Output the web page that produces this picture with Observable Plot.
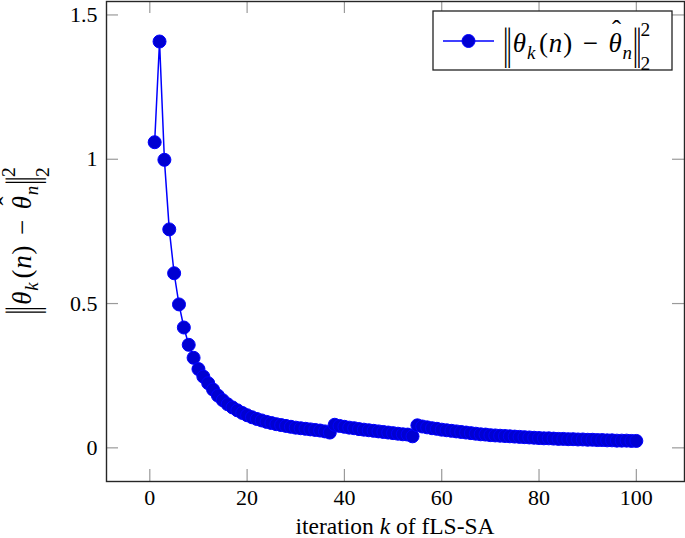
<!DOCTYPE html>
<html><head><meta charset="utf-8">
<script src="https://cdn.jsdelivr.net/npm/d3@7"></script>
<script src="https://cdn.jsdelivr.net/npm/@observablehq/plot@0.6"></script>
<style>html,body{margin:0;padding:0;background:#fff} svg{display:block}</style>
</head><body><div id="chart"></div>
<script>
// iteration k = 1..100
const iterations = d3.range(1, 101);
// squared error values
const errorValues = [
  1.059, 1.408, 0.998, 0.757, 0.605, 0.497, 0.417, 0.357, 0.312, 0.273,
  0.247, 0.224, 0.202, 0.181, 0.165, 0.151, 0.140, 0.130, 0.121, 0.113,
  0.106, 0.100, 0.095, 0.090, 0.086, 0.082, 0.079, 0.076, 0.073, 0.070,
  0.068, 0.066, 0.064, 0.062, 0.060, 0.057, 0.053, 0.080, 0.076, 0.073,
  0.070, 0.068, 0.065, 0.063, 0.061, 0.059, 0.057, 0.055, 0.053, 0.051,
  0.049, 0.047, 0.046, 0.040, 0.078, 0.074, 0.071, 0.068, 0.066, 0.063,
  0.061, 0.059, 0.057, 0.055, 0.053, 0.051, 0.049, 0.047, 0.046, 0.044,
  0.043, 0.042, 0.041, 0.040, 0.039, 0.038, 0.037, 0.036, 0.035, 0.034,
  0.033, 0.033, 0.032, 0.031, 0.031, 0.030, 0.030, 0.029, 0.029, 0.028,
  0.028, 0.027, 0.027, 0.026, 0.026, 0.025, 0.025, 0.025, 0.024, 0.024
];
const xTicks = [0, 20, 40, 60, 80, 100];
const xTickLabels = ["0", "20", "40", "60", "80", "100"];
const yTicks = [0, 0.5, 1, 1.5];
const yTickLabels = ["0", "0.5", "1", "1.5"];
const xLabelParts = [["iteration ", false], ["k", true], [" of fLS-SA", false]];

const W = 685, H = 538, mL = 106, mR = 1, mT = 1, mB = 57;
const pw = W - mL - mR, ph = H - mT - mB;
const tickLen = 12;
const serif = "Liberation Serif, Times New Roman, serif";
const fsTick = 22;
const data = iterations.map((k, i) => ({k, v: errorValues[i]}));
const tickStyle = {stroke: "#9a9a9a", strokeWidth: 1.2};

const chart = Plot.plot({
  width: W, height: H,
  marginLeft: mL, marginRight: mR, marginTop: mT, marginBottom: mB,
  style: {fontFamily: serif, fontSize: fsTick + "px", background: "#fff", color: "#000"},
  x: {domain: [-8.9, 109.9]},
  y: {domain: [-0.1166, 1.5466]},
  marks: [
    Plot.tickX(xTicks, {x: d => d, insetTop: ph - tickLen, ...tickStyle}),
    Plot.tickX(xTicks, {x: d => d, insetBottom: ph - tickLen, ...tickStyle}),
    Plot.tickY(yTicks, {y: d => d, insetRight: pw - tickLen, ...tickStyle}),
    Plot.tickY(yTicks, {y: d => d, insetLeft: pw - tickLen, ...tickStyle}),
    Plot.axisX({ticks: xTicks, tickSize: 0, tickPadding: 8, label: null, fontSize: fsTick,
      tickFormat: d => xTickLabels[xTicks.indexOf(d)]}),
    Plot.axisY({ticks: yTicks, tickSize: 0, tickPadding: 9, label: null, fontSize: fsTick,
      tickFormat: d => yTickLabels[yTicks.indexOf(d)]}),
    Plot.line(data, {x: "k", y: "v", stroke: "#0000ff", strokeWidth: 1.5}),
    Plot.dot(data, {x: "k", y: "v", r: 6.5, fill: "#0000d2", stroke: "#0000ff", strokeWidth: 1}),
    Plot.frame({stroke: "#262626", strokeWidth: 1.4})
  ]
});
document.getElementById("chart").appendChild(chart);
const svg = d3.select(chart);

function drawNorm(g, fs, barH) {
  const axis = -0.23 * fs, s = barH / fs;
  const mk = (xx, yy, size) => g.append("text").attr("x", xx).attr("y", yy)
    .attr("text-anchor", "start").attr("font-family", serif).attr("font-size", size).attr("fill", "#000");
  const bar = (xx) => mk(xx, axis + 0.285 * fs, fs)
    .attr("letter-spacing", -2)
    .attr("opacity", 0.999)
    .attr("transform", `translate(0,${axis}) scale(1,${s}) translate(0,${-axis})`)
    .text("||");
  const b1 = bar(0);
  let x = b1.node().getComputedTextLength() + 3;
  const t = mk(x, 0, fs).attr("letter-spacing", 0.8);
  t.append("tspan").attr("font-style", "italic").text("θ");
  t.append("tspan").attr("font-style", "italic").attr("font-size", fs * 0.7).attr("dy", fs * 0.25).text("k");
  t.append("tspan").attr("dy", -fs * 0.25).attr("dx", 3).text("(");
  t.append("tspan").attr("font-style", "italic").text("n");
  t.append("tspan").text(")");
  t.append("tspan").attr("dx", fs * 0.36).text("\u2212");
  t.append("tspan").attr("dx", fs * 0.36).attr("font-style", "italic").text("θ");
  t.append("tspan").attr("font-style", "italic").attr("font-size", fs * 0.7).attr("dy", fs * 0.25).text("n");
  // hat over the second theta
  const ext = t.node().getExtentOfChar(6);
  mk(ext.x + ext.width / 2 + fs * 0.04, -fs * 0.48, fs).attr("text-anchor", "middle").text("\u02C6");
  x += t.node().getComputedTextLength() + fs * 0.72 + 3;
  const b2 = bar(x);
  x += b2.node().getComputedTextLength() + 1;
  mk(x, -fs * 0.6, fs * 0.72).text("2");
  mk(x, fs * 0.68, fs * 0.72).text("2");
  return x + fs * 0.36;
}

// y-axis label
const yl = svg.append("g");
const ylw = drawNorm(yl, 27, 44);
yl.attr("transform", `translate(31,${mT + ph / 2 + ylw / 2}) rotate(-90)`);

// x-axis label
const xl = svg.append("text").attr("x", mL + pw / 2).attr("y", 534)
  .attr("text-anchor", "middle").attr("font-family", serif).attr("font-size", 23.5).attr("fill", "#000");
xLabelParts.forEach(([s, it]) => xl.append("tspan").attr("font-style", it ? "italic" : "normal").text(s));

// legend
const lg = svg.append("g");
lg.append("rect").attr("x", 433).attr("y", 11).attr("width", 239).attr("height", 59)
  .attr("fill", "#fff").attr("stroke", "#222").attr("stroke-width", 1.3);
lg.append("line").attr("x1", 443).attr("x2", 494).attr("y1", 41).attr("y2", 41)
  .attr("stroke", "#0000ff").attr("stroke-width", 1.5);
lg.append("circle").attr("cx", 468.5).attr("cy", 41).attr("r", 6.5)
  .attr("fill", "#0000d2").attr("stroke", "#0000ff").attr("stroke-width", 1);
const lt = lg.append("g").attr("transform", "translate(503,52)");
drawNorm(lt, 27, 45);
</script>
</body></html>
